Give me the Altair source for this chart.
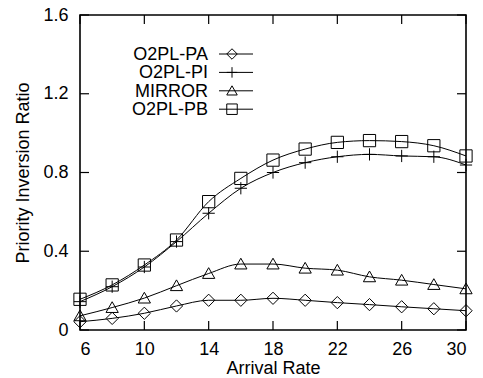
import altair as alt
import pandas as pd

arrival = [6, 8, 10, 12, 14, 16, 18, 20, 22, 24, 26, 28, 30]
o2pl_pa = [0.042, 0.059, 0.085, 0.122, 0.151, 0.151, 0.161, 0.151, 0.139, 0.129, 0.118, 0.108, 0.098]
o2pl_pi = [0.144, 0.220, 0.320, 0.449, 0.593, 0.720, 0.800, 0.850, 0.880, 0.892, 0.884, 0.880, 0.838]
mirror = [0.072, 0.114, 0.162, 0.225, 0.287, 0.335, 0.335, 0.314, 0.304, 0.270, 0.253, 0.231, 0.209]
o2pl_pb = [0.156, 0.229, 0.330, 0.457, 0.652, 0.770, 0.863, 0.919, 0.953, 0.962, 0.957, 0.936, 0.884]

series_names = ["O2PL-PA", "O2PL-PI", "MIRROR", "O2PL-PB"]
series_values = [o2pl_pa, o2pl_pi, mirror, o2pl_pb]
shapes = {
    "O2PL-PA": "M-1,0L0,-1L1,0L0,1Z",
    "O2PL-PI": "M-1,0L1,0M0,-1L0,1",
    "MIRROR": "M-1,0.8L0,-0.95L1,0.8Z",
    "O2PL-PB": "M-1,-1L1,-1L1,1L-1,1Z",
}

x_ticks = [6, 10, 14, 18, 22, 26, 30]
y_ticks = [0, 0.4, 0.8, 1.2, 1.6]

W, H = 386, 315
FONT = "Liberation Sans"
FS = 18

x_scale = alt.Scale(domain=[6, 30], nice=False, zero=False)
y_scale = alt.Scale(domain=[0, 1.6], nice=False)

layers = []
for name, vals in zip(series_names, series_values):
    df = pd.DataFrame({"x": arrival, "y": vals})
    base = alt.Chart(df)
    line = base.mark_line(color="black", strokeWidth=1, interpolate="monotone").encode(
        x=alt.X("x:Q", scale=x_scale,
                axis=alt.Axis(values=x_ticks, title="Arrival Rate", ticks=False, domain=False,
                              grid=False, labelFontSize=FS, labelPadding=10, titleFontSize=FS,
                              titleFontWeight="normal", titlePadding=1, labelFont=FONT,
                              titleFont=FONT, labelColor="black", titleColor="black")),
        y=alt.Y("y:Q", scale=y_scale,
                axis=alt.Axis(values=y_ticks, format=".1~f", title="Priority Inversion Ratio",
                              ticks=False, domain=False, grid=False, labelFontSize=FS,
                              labelPadding=12, titleFontSize=FS, titleFontWeight="normal",
                              titlePadding=10, labelFont=FONT, titleFont=FONT,
                              labelColor="black", titleColor="black")),
    )
    pts = base.mark_point(shape=shapes[name], size=150, filled=False, color="black",
                          strokeWidth=1, opacity=1).encode(
        x=alt.X("x:Q", scale=x_scale),
        y=alt.Y("y:Q", scale=y_scale),
    )
    layers += [line, pts]

# inward ticks on all four sides
xt = alt.Chart(pd.DataFrame({"v": x_ticks}))
yt = alt.Chart(pd.DataFrame({"v": y_ticks}))
layers.append(xt.mark_rule(color="black", strokeWidth=1.2).encode(
    x=alt.X("v:Q", scale=x_scale), y=alt.value(H), y2=alt.value(H - 9)))
layers.append(xt.mark_rule(color="black", strokeWidth=1.2).encode(
    x=alt.X("v:Q", scale=x_scale), y=alt.value(0), y2=alt.value(9)))
layers.append(yt.mark_rule(color="black", strokeWidth=1.2).encode(
    y=alt.Y("v:Q", scale=y_scale), x=alt.value(0), x2=alt.value(9)))
layers.append(yt.mark_rule(color="black", strokeWidth=1.2).encode(
    y=alt.Y("v:Q", scale=y_scale), x=alt.value(W), x2=alt.value(W - 9)))

# legend (label, then line with symbol)
leg_df = pd.DataFrame({"name": series_names})
for i, name in enumerate(series_names):
    row = alt.Chart(leg_df[leg_df["name"] == name])
    yy = 39 + 18.4 * i
    layers.append(row.mark_text(align="right", baseline="middle", fontSize=FS, font=FONT,
                                color="black").encode(
        text="name:N", x=alt.value(128), y=alt.value(yy + 1)))
    layers.append(row.mark_rule(color="black", strokeWidth=1).encode(
        x=alt.value(139), x2=alt.value(173), y=alt.value(yy)))
    layers.append(row.mark_point(shape=shapes[name], size=110, filled=False, color="black",
                                 strokeWidth=1, opacity=1).encode(
        x=alt.value(152), y=alt.value(yy)))

chart = alt.layer(*layers).properties(
    width=W, height=H,
    autosize=alt.AutoSizeParams(type="none"),
    padding={"left": 72, "top": 7, "right": 9, "bottom": 48},
    background="white",
).configure_view(stroke="black", strokeWidth=1.6)

chart.save("out.html", embed_options={"renderer": "svg", "actions": False})
